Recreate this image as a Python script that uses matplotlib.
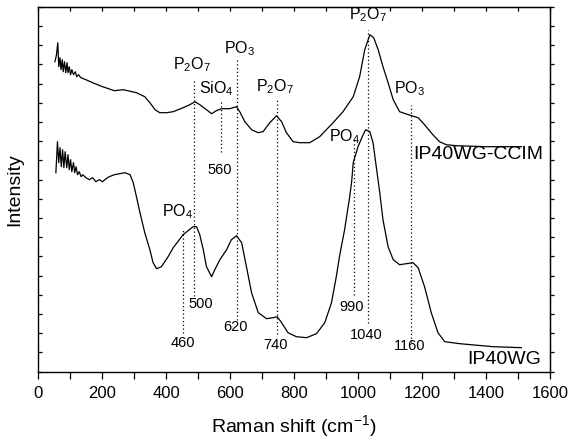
import numpy as np
import matplotlib
matplotlib.use("Agg")
import matplotlib.pyplot as plt

plt.rcParams['font.family'] = ['Liberation Sans', 'DejaVu Sans']
plt.rcParams['mathtext.default'] = 'regular'

# upper spectrum (IP40WG-CCIM)
ccim_x = [52, 57, 61, 64, 68, 71, 75, 78, 82, 86, 90, 93, 97, 101, 105, 110, 116, 120, 126, 133,
          149, 170, 201, 238, 266, 307, 333, 349, 365, 380, 401, 422, 453, 474, 490, 505, 526, 542,
          557, 573, 599, 620, 630, 646, 667, 688, 703, 724, 745, 761, 776, 797, 818, 849, 880, 922,
          953, 985, 1005, 1021, 1037, 1049, 1063, 1078, 1094, 1110, 1130, 1167, 1188, 1208, 1234,
          1255, 1276, 1307, 1401, 1511]
ccim_y = [310, 317, 329, 305, 314, 302, 312, 300, 310, 299, 309, 299, 305, 297, 302, 297, 300, 295, 297, 294,
          292, 289, 285, 281, 282, 279, 275, 269, 262, 259, 259, 260, 264, 267, 270, 267, 262, 258,
          261, 263, 263, 265, 260, 250, 242, 239, 240, 249, 256, 250, 239, 230, 229, 229, 235, 249,
          260, 275, 295, 322, 337, 334, 322, 305, 289, 272, 260, 256, 254, 247, 237,
          230, 227, 226, 225, 225]

# lower spectrum (IP40WG)
wg_x = [55, 60, 64, 68, 72, 76, 80, 84, 89, 93, 97, 101, 105, 110, 114, 118, 123, 128, 134, 139,
        149, 160, 170, 180, 191, 201, 212, 222, 238, 271, 287, 297, 307, 318, 333, 349, 359, 370,
        385, 406, 422, 453, 484, 495, 505, 516, 526, 542, 552, 568, 589, 604, 620, 636, 651, 667,
        688, 714, 735, 747, 761, 781, 807, 839, 870, 896, 917, 932, 943, 958, 974, 980, 985, 1000,
        1016, 1024, 1037, 1047, 1057, 1068, 1078, 1094, 1110, 1130, 1172, 1188, 1208, 1229, 1250,
        1271, 1318, 1422, 1511]
wg_y = [199, 230, 209, 224, 205, 222, 204, 220, 204, 217, 202, 212, 200, 209, 199, 205, 197, 200, 195, 197,
        194, 192, 194, 190, 192, 190, 193, 195, 197, 199, 197, 189, 175, 159, 139, 122, 109, 103,
        105, 115, 124, 137, 145, 145, 137, 122, 105, 95, 102, 112, 122, 132, 136, 129, 105, 79,
        59, 53, 54, 55, 49, 39, 35, 34, 38, 49, 69, 95, 117, 142, 175, 190, 209, 225,
        237, 242, 240, 229, 205, 179, 152, 125, 112, 107, 109, 104, 85, 59, 39,
        30, 28, 25, 24]

# dotted marker lines: position, bottom, top
mark_x = [453, 488, 573, 622, 748, 988, 1032, 1165]
mark_lo = [39, 76, 220, 52, 38, 77, 49, 30]
mark_hi = [142, 292, 272, 312, 272, 232, 342, 267]

# wavenumber labels under the lines
num_text = ['460', '500', '560', '620', '740', '990', '1040', '1160']
num_x = [451, 507, 568, 618, 743, 979, 1026, 1162]
num_y = [29, 68, 202, 45, 27, 65, 37, 26]

# group labels
grp_text = ['P$_2$O$_7$', 'SiO$_4$', 'PO$_3$', 'P$_2$O$_7$', 'PO$_4$', 'PO$_4$', 'P$_2$O$_7$', 'PO$_3$']
grp_x = [479, 557, 628, 740, 437, 958, 1032, 1161]
grp_y = [307, 283, 323, 285, 160, 235, 357, 283]

fig = plt.figure(figsize=(5.68, 4.38), dpi=100)
ax = fig.add_axes([0.0674, 0.1514, 0.9007, 0.8333])

ax.plot(ccim_x, ccim_y, color='black', lw=0.9)
ax.plot(wg_x, wg_y, color='black', lw=0.9)

for x, lo, hi in zip(mark_x, mark_lo, mark_hi):
    ax.plot([x, x], [lo, hi], color='black', lw=0.9, ls=(0, (1, 2)))

for t, x, y in zip(num_text, num_x, num_y):
    ax.text(x, y, t, fontsize=10.5, ha='center', va='center')

for t, x, y in zip(grp_text, grp_x, grp_y):
    ax.text(x, y, t, fontsize=11.5, ha='center', va='center')

ax.text(1580, 217, 'IP40WG-CCIM', fontsize=14, ha='right', va='center')
ax.text(1573, 12, 'IP40WG', fontsize=14, ha='right', va='center')

ax.set_xlim(0, 1600)
ax.set_ylim(0, 365)
ax.set_xticks(range(0, 1601, 200))
ax.set_xticks(range(0, 1601, 100), minor=True)
ax.set_yticks(np.linspace(0, 365, 20))
ax.set_yticklabels([])
ax.tick_params(axis='x', which='both', direction='out', length=5, width=0.9, labelsize=12,
               pad=5, top=False)
ax.tick_params(axis='y', which='both', direction='in', length=3, width=0.9, right=False)

top = ax.secondary_xaxis('top')
top.set_xticks(range(0, 1601, 100))
top.tick_params(direction='in', length=3, width=0.9, labeltop=False)
right = ax.secondary_yaxis('right')
right.set_yticks(np.linspace(0, 365, 20))
right.tick_params(direction='out', length=3, width=0.9, labelright=False)

for s in ax.spines.values():
    s.set_linewidth(1.0)

ax.set_xlabel('Raman shift (cm$^{-1}$)', fontsize=14, labelpad=9)
ax.set_ylabel('Intensity', fontsize=14, labelpad=7)

fig.savefig('out.png', dpi=100)
